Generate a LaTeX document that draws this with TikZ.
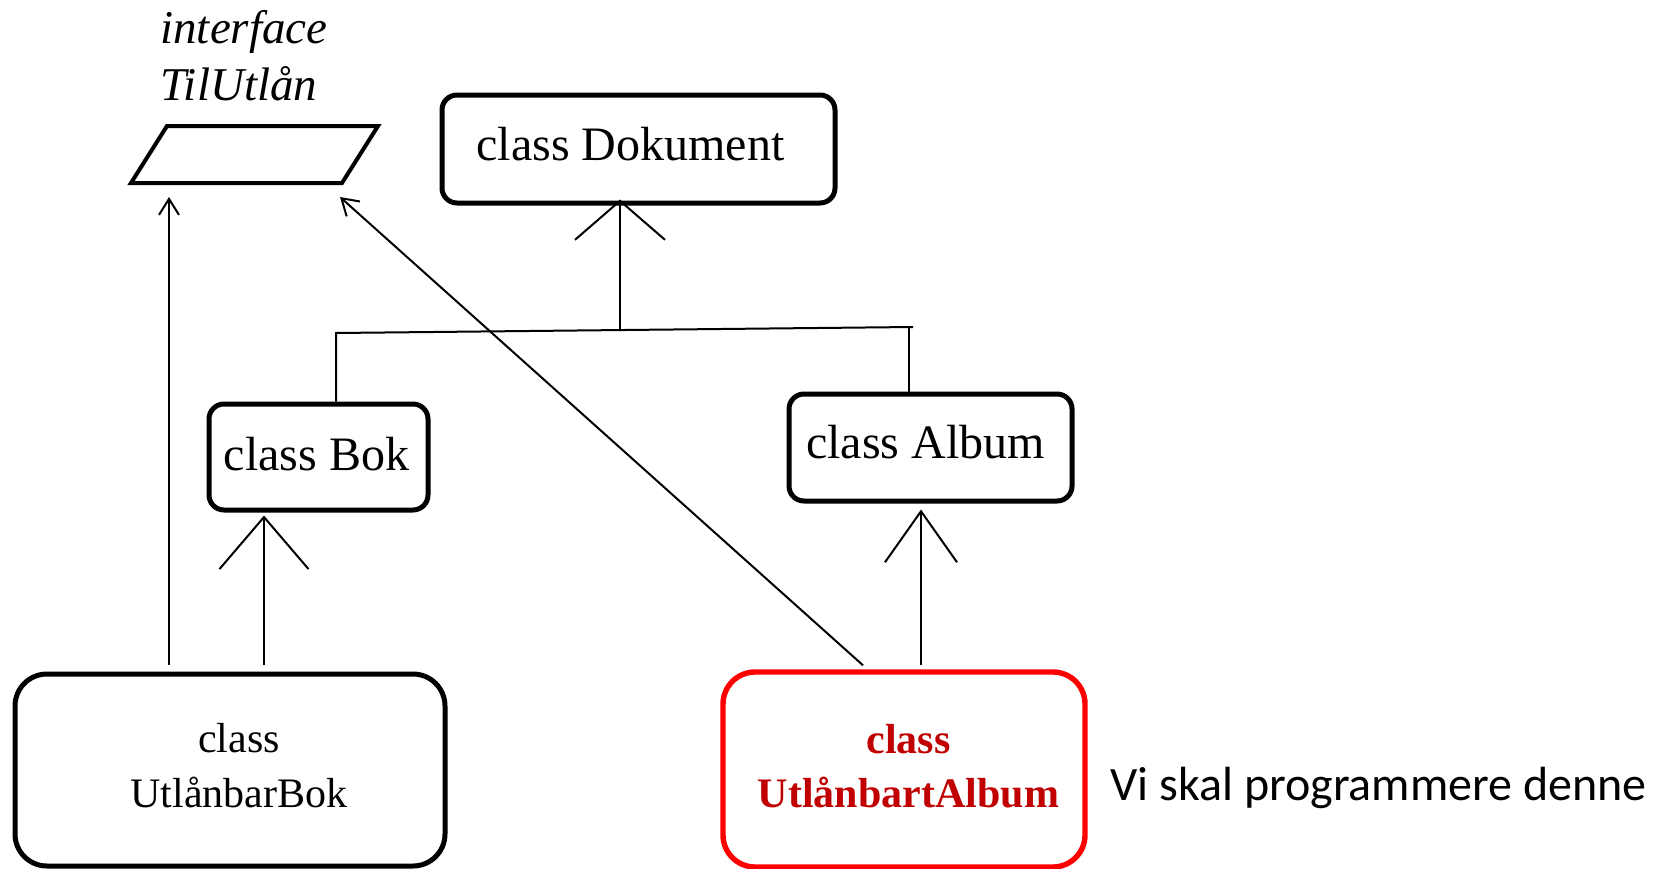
\documentclass[tikz,border=0pt]{standalone}
\usepackage{fontspec}
\setmainfont{Liberation Serif}
\newfontfamily\notefont{Carlito}
\usetikzlibrary{arrows.meta}
\definecolor{edgered}{RGB}{255,0,0}
\definecolor{textred}{RGB}{192,0,0}
\begin{document}
\begin{tikzpicture}[x=0.5pt,y=-0.5pt,
  classbox/.style={draw, line width=2.5pt, rounded corners=7.5pt, inner sep=0pt},
  bigbox/.style={draw, line width=2.5pt, rounded corners=16pt, inner sep=0pt},
  classlabel/.style={inner sep=0pt, anchor=base, font=\fontsize{24}{29}\selectfont},
  % base anchor of a multi-line node sits on its last line
  twoline/.style={inner sep=0pt, anchor=base, align=center, font=\fontsize{21}{27.5}\selectfont},
  link/.style={line width=1pt},
  extends/.style n args={2}{line width=1pt, -{Straight Barb[length=#1, width=#2]}},
  implements/.style={line width=1pt, -{Straight Barb[length=8pt, width=10pt]}}
]
\useasboundingbox (0,0) rectangle (1653,868);

% interface
\node[anchor=base west, inner sep=0pt, align=left,
      font=\itshape\fontsize{23.5}{28.5}\selectfont] (ifacet) at (160,100) {interface\\TilUtlån};
\draw[line width=2pt] (167,126) -- (378,126) -- (342,183) -- (131,183) -- cycle;
\coordinate (ifa) at (169,197);
\coordinate (ifb) at (340,197);

% classes
\node[classbox, minimum width=196.5pt, minimum height=54pt] (dok) at (638.5,149) {};
\node[classlabel] (dokt) at (630.5,160) {class Dokument};

\node[classbox, minimum width=109.5pt, minimum height=53pt] (bok) at (318.5,457) {};
\node[classlabel] (bokt) at (316.5,470) {class Bok};

\node[classbox, minimum width=141.5pt, minimum height=53.5pt] (album) at (930.5,447.5) {};
\node[classlabel] (albumt) at (925.5,458) {class Album};

\node[bigbox, minimum width=215pt, minimum height=96pt] (ubok) at (230,770) {};
\node[twoline] (ubokt) at (239,807) {class\\UtlånbarBok};

\node[bigbox, draw=edgered, line width=2.7pt, minimum width=181pt, minimum height=97.5pt] (ualbum) at (904,769.5) {};
\node[twoline, text=textred, font=\bfseries\fontsize{21}{27}\selectfont] (ualbumt) at (908.5,807) {class\\UtlånbartAlbum};

\node[anchor=base west, inner sep=0pt, font=\notefont\fontsize{24}{29}\selectfont] (note) at (1110,800) {Vi skal programmere denne};

% inheritance tree under Dokument
\coordinate (jl) at (336,333);
\coordinate (jr) at (913,327);
\coordinate (jm) at (620,330.5);
\coordinate (jra) at (909,327.1);
\draw[link] (jl |- bok.north) -- (jl) -- (jr);
\draw[link] (jra) -- (jra |- album.north);
\path (jm |- dok.south) ++(0,-6) coordinate (dtip);
\draw[extends={19.5pt}{45pt}] (jm) -- (dtip);

% UtlånbarBok extends Bok and implements TilUtlån
\path (ubok.north) ++(34,-7) coordinate (bfoot);
\path (bfoot |- bok.south) ++(0,3) coordinate (btip);
\draw[extends={26pt}{44.5pt}] (bfoot) -- (btip);
\path (ubok.north) ++(-61,-7) coordinate (ifoot);
\draw[implements] (ifoot) -- (ifa);

% UtlånbartAlbum extends Album and implements TilUtlån
\path (ualbum.north) ++(17,-4) coordinate (afoot);
\path (afoot |- album.south) ++(0,6) coordinate (atip);
\draw[extends={25.5pt}{36pt}] (afoot) -- (atip);
\path (ualbum.north) ++(-41,-4) coordinate (dfoot);
\draw[implements] (dfoot) -- (ifb);
\end{tikzpicture}
\end{document}
